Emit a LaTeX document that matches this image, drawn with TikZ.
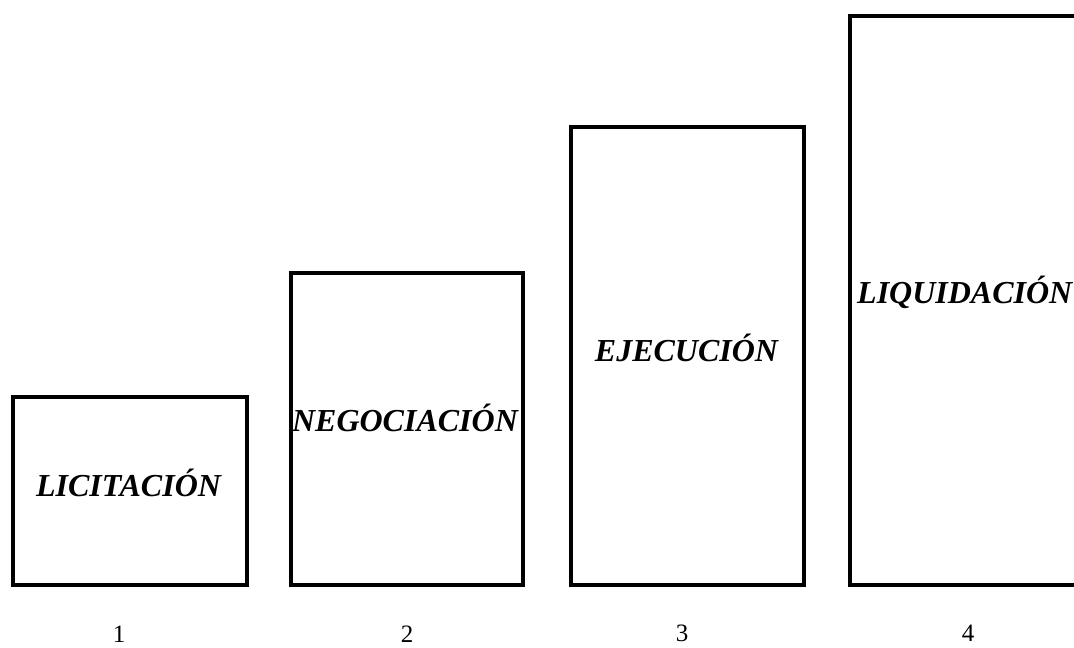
\documentclass[tikz,border=0pt]{standalone}
\usepackage{fontspec}
\setmainfont{Liberation Serif}
\begin{document}
\begin{tikzpicture}[x=1pt,y=-1pt,
  stagebox/.style={draw=black, line width=4pt, fill=none, inner sep=0pt, outer sep=0pt, anchor=south west},
  stagelabel/.style={font=\fontsize{32}{36}\selectfont\bfseries\itshape, inner sep=0pt, anchor=base},
  numlabel/.style={font=\fontsize{25}{28}\selectfont, inner sep=0pt, anchor=base}]
\clip (0,0) rectangle (1074,648);
\fill[white] (0,0) rectangle (1074,648);
\node[stagebox, minimum width=234pt, minimum height=187.5pt] (b1) at (12.5,584.5) {};
\node[stagebox, minimum width=232.5pt, minimum height=311.5pt] (b2) at (290.5,584.5) {};
\node[stagebox, minimum width=233.5pt, minimum height=458pt] (b3) at (570.5,584.5) {};
\node[stagebox, minimum width=240pt, minimum height=569pt] (b4) at (850,584.5) {};
\node[stagelabel] (t1) at (128.5,496) {LICITACIÓN};
\node[stagelabel] (t2) at (405,431) {NEGOCIACIÓN};
\node[stagelabel] (t3) at (686.5,361) {EJECUCIÓN};
\node[stagelabel, anchor=base west] (t4) at (857,303) {LIQUIDACIÓN};
\node[numlabel] (n1) at (119,642) {1};
\node[numlabel] (n2) at (407,642) {2};
\node[numlabel] (n3) at (682,641) {3};
\node[numlabel] (n4) at (968,641) {4};
\end{tikzpicture}
\end{document}
